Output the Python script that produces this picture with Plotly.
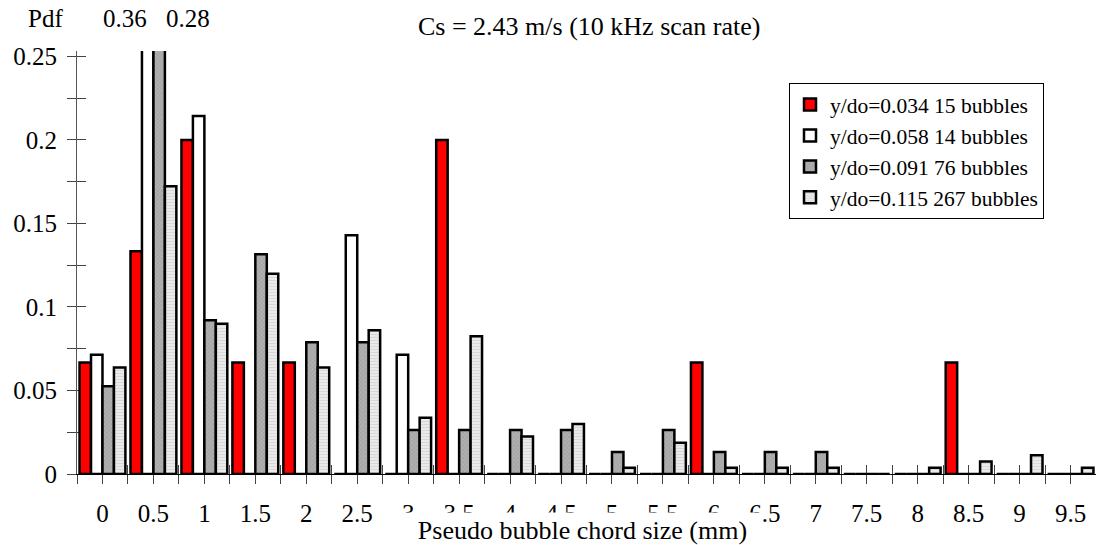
import plotly.graph_objects as go

# ---- data ----
sizes = [0, 0.5, 1, 1.5, 2, 2.5, 3, 3.5, 4, 4.5, 5, 5.5, 6, 6.5, 7, 7.5, 8, 8.5, 9, 9.5]
tick_labels = ["0", "0.5", "1", "1.5", "2", "2.5", "3", "3.5", "4", "4.5",
               "5", "5.5", "6", "6.5", "7", "7.5", "8", "8.5", "9", "9.5"]

names = ["y/do=0.034 15 bubbles", "y/do=0.058 14 bubbles",
         "y/do=0.091 76 bubbles", "y/do=0.115 267 bubbles"]

pdf_034 = [0.0667, 0.1333, 0.2, 0.0667, 0.0667, 0, 0, 0.2, 0, 0,
           0, 0, 0.0667, 0, 0, 0, 0, 0.0667, 0, 0]
pdf_058 = [0.0714, 0.357, 0.2143, 0, 0, 0.1429, 0.0714, 0, 0, 0,
           0, 0, 0, 0, 0, 0, 0, 0, 0, 0]
pdf_091 = [0.0526, 0.276, 0.0921, 0.1316, 0.0789, 0.0789, 0.0263, 0.0263, 0.0263, 0.0263,
           0.0132, 0.0263, 0.0132, 0.0132, 0.0132, 0, 0, 0, 0, 0]
pdf_115 = [0.0637, 0.1723, 0.0899, 0.1199, 0.0637, 0.0861, 0.0337, 0.0824, 0.0225, 0.03,
           0.0037, 0.0187, 0.0037, 0.0037, 0.0037, 0, 0.0037, 0.0075, 0.0112, 0.0037]

y_tickvals = [0, 0.05, 0.1, 0.15, 0.2, 0.25]
y_ticktext = ["0", "0.05", "0.1", "0.15", "0.2", "0.25"]

FONT = "'Liberation Serif', 'Times New Roman', 'DejaVu Serif', serif"
W, H = 1096, 545
ML, MR, MT, MB = 77, 0, 51, 71
PW, PH = W - ML - MR, H - MT - MB


def px(x):
    return (x - ML) / PW


def py(y):
    return (H - MB - y) / PH


fig = go.Figure()
line = dict(color="black", width=2.5)
fig.add_trace(go.Bar(x=sizes, y=pdf_034, name=names[0],
                     marker=dict(color="#ff0000", line=line)))
fig.add_trace(go.Bar(x=sizes, y=pdf_058, name=names[1],
                     marker=dict(color="white", line=line)))
fig.add_trace(go.Bar(x=sizes, y=pdf_091, name=names[2],
                     marker=dict(color="#a8a8a8", line=line,
                                 pattern=dict(shape="x", fgcolor="#808080",
                                              bgcolor="#b0b0b0", size=3, solidity=0.3))))
fig.add_trace(go.Bar(x=sizes, y=pdf_115, name=names[3],
                     marker=dict(color="#e4e4e4", line=line,
                                 pattern=dict(shape="-", fgcolor="#c4c4c4",
                                              bgcolor="#ececec", size=3, solidity=0.4))))
# invisible trace to anchor the overlay axes
fig.add_trace(go.Scatter(x=[None], y=[None], xaxis="x2", yaxis="y2",
                         showlegend=False, hoverinfo="skip"))

xr = [-0.25, 9.75]
yr = [0, 0.2532]
tick_col = "#444444"

fig.update_layout(
    width=W, height=H,
    margin=dict(l=ML, r=MR, t=MT, b=MB, pad=0),
    paper_bgcolor="white", plot_bgcolor="white",
    barmode="group", bargap=0.1, bargroupgap=0,
    font=dict(family=FONT, size=24, color="black"),
    xaxis=dict(range=xr, tickmode="array", tickvals=sizes, ticktext=tick_labels,
               ticks="outside", ticklen=9, tickcolor=tick_col, tickwidth=1,
               minor=dict(tickmode="linear", tick0=0.25, dtick=0.5, ticks="outside",
                          ticklen=9, tickcolor=tick_col, tickwidth=1),
               showline=True, linecolor="black", linewidth=1,
               showgrid=False, zeroline=False,
               tickfont=dict(family=FONT, size=25), ticklabelstandoff=8),
    yaxis=dict(range=yr, tickmode="array", tickvals=y_tickvals, ticktext=y_ticktext,
               ticks="outside", ticklen=9, tickcolor=tick_col, tickwidth=1,
               minor=dict(tickmode="linear", tick0=0, dtick=0.025, ticks="outside",
                          ticklen=9, tickcolor=tick_col, tickwidth=1),
               showline=True, linecolor="#555555", linewidth=1,
               showgrid=False, zeroline=False,
               tickfont=dict(family=FONT, size=25), ticklabelstandoff=5),
    xaxis2=dict(range=xr, overlaying="x", anchor="y2", tickmode="linear", tick0=-0.25,
                dtick=0.25, ticks="inside", ticklen=9, tickcolor=tick_col,
                showticklabels=False, showgrid=False, zeroline=False,
                showline=False, layer="below traces"),
    yaxis2=dict(range=yr, overlaying="y", anchor="x2", tickmode="linear", tick0=0,
                dtick=0.025, ticks="inside", ticklen=9, tickcolor=tick_col,
                showticklabels=False, showgrid=False, zeroline=False,
                showline=False, layer="below traces"),
    legend=dict(x=px(789), y=py(83), xanchor="left", yanchor="top",
                bgcolor="white", bordercolor="black", borderwidth=1,
                font=dict(family=FONT, size=21.5, color="black"),
                itemwidth=30, traceorder="normal"),
    showlegend=True,
)

ann = []
ann.append(dict(text="Pdf", x=px(45), y=py(18), xref="paper", yref="paper",
                xanchor="center", yanchor="middle", showarrow=False,
                font=dict(family=FONT, size=25)))
ann.append(dict(text=f"{pdf_058[1]:.2f}", x=px(125), y=py(18), xref="paper", yref="paper",
                xanchor="center", yanchor="middle", showarrow=False,
                font=dict(family=FONT, size=25)))
ann.append(dict(text=f"{pdf_091[1]:.2f}", x=px(187.5), y=py(18), xref="paper", yref="paper",
                xanchor="center", yanchor="middle", showarrow=False,
                font=dict(family=FONT, size=25)))
ann.append(dict(text="Cs = 2.43 m/s (10 kHz scan rate)", x=px(589), y=py(27),
                xref="paper", yref="paper", xanchor="center", yanchor="middle",
                showarrow=False, font=dict(family=FONT, size=26)))
ann.append(dict(text="Pseudo bubble chord size (mm)", x=px(582.5), y=py(530),
                xref="paper", yref="paper", xanchor="center", yanchor="middle",
                showarrow=False, bgcolor="white", width=359, height=34, borderpad=0,
                font=dict(family=FONT, size=26)))
fig.update_layout(annotations=ann)

fig.write_html("out.html")
